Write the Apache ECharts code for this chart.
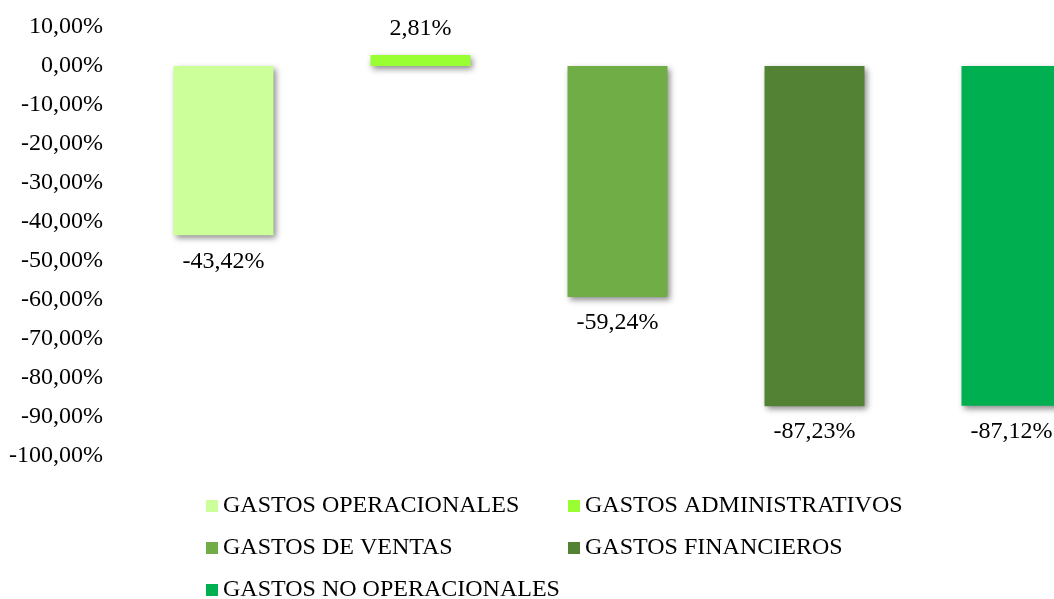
<!DOCTYPE html>
<html>
<head>
<meta charset="utf-8">
<script src="https://cdn.jsdelivr.net/npm/echarts@6/dist/echarts.min.js"></script>
<style>html,body{margin:0;padding:0;background:#fff}#c{width:1054px;height:599px}</style>
</head>
<body>
<div id="c"></div>
<script>
const categories = ['GASTOS OPERACIONALES','GASTOS ADMINISTRATIVOS','GASTOS DE VENTAS','GASTOS FINANCIEROS','GASTOS NO OPERACIONALES'];
const values = [-43.42, 2.81, -59.24, -87.23, -87.12];
const colors = ['#CCFF99','#99FF33','#70AD47','#548235','#00B050'];
const yMin = -100, yMax = 10, yStep = 10;

const fmt = v => v.toFixed(2).replace('.', ',') + '%';
const FONT = '"Liberation Serif", "Times New Roman", serif';

const series = categories.map((name, i) => ({
  name: name,
  type: 'bar',
  stack: 'all',
  barWidth: 100,
  data: categories.map((_, j) => j === i ? values[i] : null),
  itemStyle: {
    color: colors[i],
    shadowColor: 'rgba(0,0,0,0.45)',
    shadowBlur: 6,
    shadowOffsetX: 2,
    shadowOffsetY: 3
  },
  label: {
    show: true,
    position: values[i] >= 0 ? 'top' : 'bottom',
    distance: 14,
    fontFamily: FONT,
    fontSize: 24,
    color: '#000',
    formatter: p => fmt(p.value)
  }
}));

const chart = echarts.init(document.getElementById('c'));
chart.setOption({
  animation: false,
  grid: { left: 125, width: 985, top: 27, bottom: 143, outerBoundsMode: 'none', containLabel: false },
  xAxis: {
    type: 'category',
    data: categories,
    axisLine: { show: false },
    axisTick: { show: false },
    axisLabel: { show: false },
    splitLine: { show: false }
  },
  yAxis: {
    type: 'value',
    min: yMin, max: yMax, interval: yStep,
    axisLine: { show: false },
    axisTick: { show: false },
    splitLine: { show: false },
    axisLabel: {
      margin: 22,
      fontFamily: FONT,
      fontSize: 24,
      color: '#000',
      formatter: v => fmt(v)
    }
  },
  legend: {
    left: 206,
    top: 490,
    width: 760,
    padding: 0,
    itemWidth: 12,
    itemHeight: 12,
    itemGap: 10,
    icon: 'rect',
    textStyle: {
      fontFamily: FONT,
      fontSize: 24,
      color: '#000',
      width: 335,
      lineHeight: 32
    },
    data: categories
  },
  series: series
});
</script>
</body>
</html>
